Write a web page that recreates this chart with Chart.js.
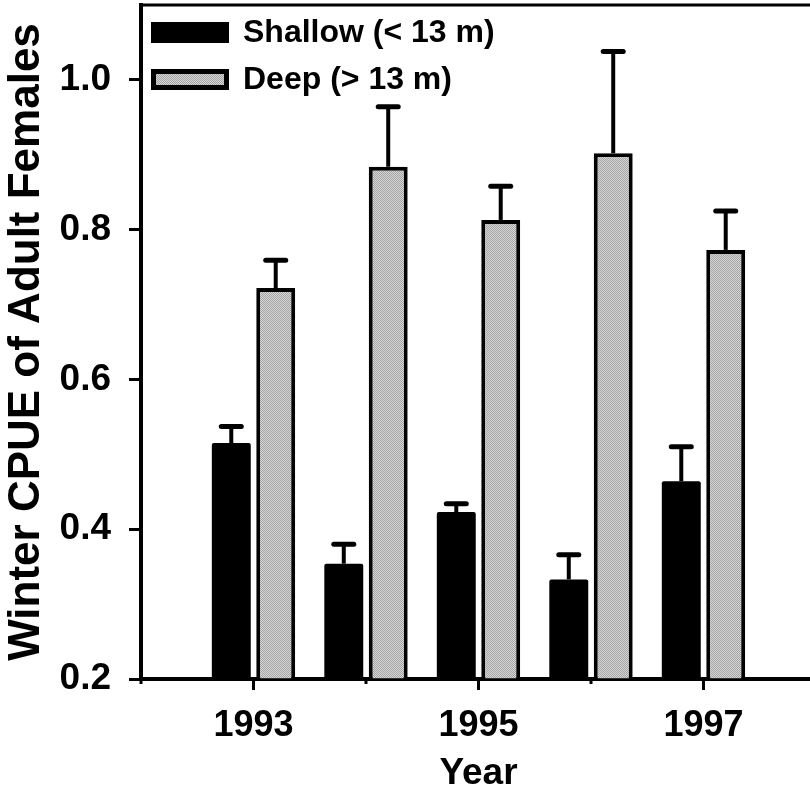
<!DOCTYPE html>
<html>
<head>
<meta charset="utf-8">
<script src="https://cdn.jsdelivr.net/npm/chart.js@4.4.1/dist/chart.umd.min.js"></script>
<style>
html, body { margin: 0; padding: 0; background: #fff; overflow: hidden; }
#wrap { width: 810px; height: 796px; overflow: hidden; }
canvas { display: block; }
</style>
</head>
<body>
<div id="wrap"><canvas id="cpue" width="816" height="796"></canvas></div>
<script>
// values
const years = [1993, 1994, 1995, 1996, 1997];
const shallow = [0.515, 0.354, 0.423, 0.333, 0.464];
const shallowSE = [0.022, 0.026, 0.011, 0.033, 0.046];
const deep = [0.722, 0.884, 0.813, 0.902, 0.773];
const deepSE = [0.037, 0.080, 0.045, 0.136, 0.052];
const yTicks = [0.2, 0.4, 0.6, 0.8, 1.0];
const xLabelYears = [1993, 1995, 1997];

const FONT = '"Liberation Sans", Arial, Helvetica, sans-serif';

function stipple(ctx) {
    var c = document.createElement('canvas');
    c.width = 4; c.height = 4;
    var g = c.getContext('2d');
    g.fillStyle = '#d6d6d6';
    g.fillRect(0, 0, 4, 4);
    g.fillStyle = '#a4a4a4';
    for (var i = 0; i < 4; i++)
        for (var j = 0; j < 4; j++)
            if ((i + j) % 2 == 0) g.fillRect(i, j, 1, 1);
    return ctx.createPattern(c, 'repeat');
}

// error bars on top of each bar
const errorBars = {
    id: 'errorBars',
    afterDatasetsDraw(chart) {
        const ctx = chart.ctx, y = chart.scales.y;
        chart.data.datasets.forEach(function(ds, di) {
            const meta = chart.getDatasetMeta(di);
            meta.data.forEach(function(bar, i) {
                const top = y.getPixelForValue(ds.data[i].y + ds.errors[i]);
                ctx.save();
                ctx.strokeStyle = '#000';
                ctx.lineWidth = 4;
                ctx.beginPath();
                ctx.moveTo(bar.x, bar.y);
                ctx.lineTo(bar.x, top);
                ctx.stroke();
                ctx.lineCap = 'round';
                ctx.lineWidth = 5;
                ctx.beginPath();
                ctx.moveTo(bar.x - 10, top);
                ctx.lineTo(bar.x + 10, top);
                ctx.stroke();
                ctx.restore();
            });
        });
    }
};

// long ticks at labelled years, short ones between
const yearTicks = {
    id: 'yearTicks',
    afterDraw(chart) {
        const ctx = chart.ctx, x = chart.scales.x, a = chart.chartArea;
        ctx.save();
        ctx.strokeStyle = '#000';
        ctx.lineWidth = 3;
        x.ticks.forEach(function(t) {
            const px = x.getPixelForValue(t.value);
            const len = xLabelYears.includes(t.value) ? 11 : 5;
            ctx.beginPath();
            ctx.moveTo(px, a.bottom);
            ctx.lineTo(px, a.bottom + len);
            ctx.stroke();
        });
        // frame top / right
        ctx.lineWidth = 3;
        ctx.beginPath();
        ctx.moveTo(a.left, a.top);
        ctx.lineTo(a.right - 1, a.top);
        ctx.lineTo(a.right - 1, a.bottom);
        ctx.stroke();
        ctx.restore();
    }
};

// legend inside the plot, top left
const boxLegend = {
    id: 'boxLegend',
    afterDraw(chart) {
        const ctx = chart.ctx, a = chart.chartArea;
        ctx.save();
        ctx.font = 'bold 32px ' + FONT;
        ctx.textBaseline = 'middle';
        chart.data.datasets.forEach(function(ds, i) {
            const bx = a.left + 10, by = a.top + 17 + i * 47, bw = 78, bh = 21;
            ctx.fillStyle = ds.backgroundColor;
            ctx.fillRect(bx, by, bw, bh);
            if (ds.borderWidth) {
                ctx.lineWidth = 5;
                ctx.strokeStyle = '#000';
                ctx.strokeRect(bx + 2.5, by + 2.5, bw - 5, bh - 5);
            }
            ctx.fillStyle = '#000';
            ctx.fillText(ds.label, bx + bw + 14, by + bh / 2 + 1);
        });
        ctx.restore();
    }
};

const canvas = document.getElementById('cpue');
const ctx = canvas.getContext('2d');

new Chart(ctx, {
    type: 'bar',
    data: {
        datasets: [{
            label: 'Shallow (< 13 m)',
            data: years.map((yr, i) => ({x: yr, y: shallow[i]})),
            errors: shallowSE,
            backgroundColor: '#000',
            borderWidth: 0,
            borderRadius: 2,
            base: 0.2
        },
        {
            label: 'Deep (> 13 m)',
            data: years.map((yr, i) => ({x: yr, y: deep[i]})),
            errors: deepSE,
            backgroundColor: stipple(ctx),
            borderColor: '#000',
            borderWidth: 4,
            base: 0.2
        }]
    },
    options: {
        responsive: false,
        animation: false,
        categoryPercentage: 0.79,
        barPercentage: 0.876,
        layout: { padding: { top: 5, left: 0, right: 0, bottom: 0 } },
        plugins: {
            legend: { display: false },
            tooltip: { enabled: false }
        },
        scales: {
            x: {
                type: 'linear',
                min: 1992,
                max: 1998,
                offset: false,
                ticks: {
                    stepSize: 1,
                    autoSkip: false,
                    maxRotation: 0,
                    padding: 15,
                    color: '#000',
                    font: { family: FONT, size: 36, weight: 'bold' },
                    callback: v => xLabelYears.includes(v) ? String(v) : ''
                },
                grid: { drawOnChartArea: false, offset: false, tickLength: 10, tickColor: 'rgba(0,0,0,0)' },
                border: { color: '#000', width: 4 },
                title: {
                    display: true,
                    text: 'Year',
                    color: '#000',
                    font: { family: FONT, size: 37, weight: 'bold' },
                    padding: { top: 0, bottom: 0 }
                },
                afterFit: s => { s.height = 117; s.paddingLeft = 0; s.paddingRight = 0; }
            },
            y: {
                min: 0.2,
                max: 1.1,
                afterBuildTicks: s => { s.ticks = yTicks.map(v => ({value: v})); },
                ticks: {
                    padding: 18,
                    color: '#000',
                    font: { family: FONT, size: 37, weight: 'bold' },
                    callback: v => v.toFixed(1)
                },
                grid: { drawOnChartArea: false, tickLength: 12, tickWidth: 3, tickColor: '#000' },
                border: { color: '#000', width: 4 },
                title: {
                    display: true,
                    text: 'Winter CPUE of Adult Females',
                    color: '#000',
                    font: { family: FONT, size: 44, weight: 'bold' },
                    padding: { top: 0, bottom: 6 }
                },
                afterFit: s => { s.width = 141; s.paddingTop = 0; s.paddingBottom = 0; }
            }
        }
    },
    plugins: [errorBars, yearTicks, boxLegend]
});
</script>
</body>
</html>
